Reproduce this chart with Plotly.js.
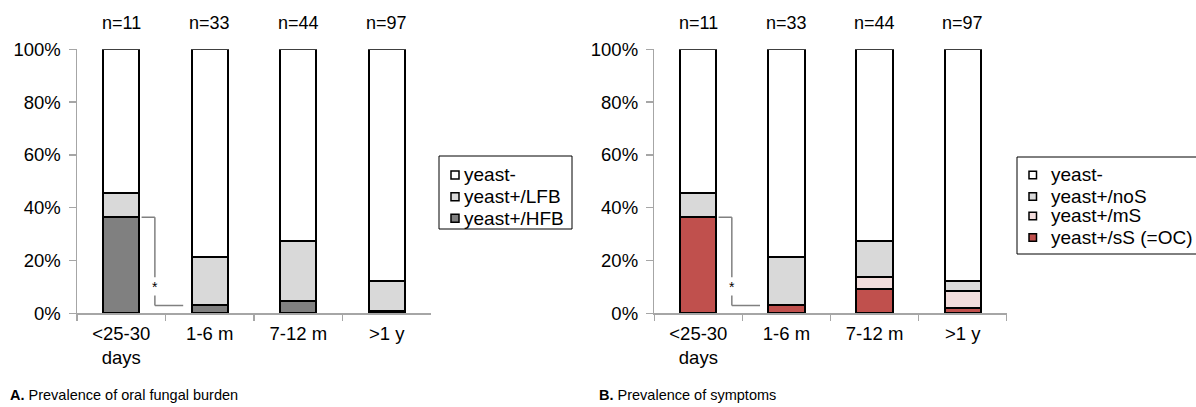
<!DOCTYPE html>
<html>
<head>
<meta charset="utf-8">
<script src="https://cdn.plot.ly/plotly-3.0.1.min.js"></script>
<style>html,body{margin:0;padding:0;background:#fff;}#chart{width:1196px;height:407px;}</style>
</head>
<body>
<div id="chart"></div>
<script>
// ---- data ----
var categories = ['<25-30<br>days', '1-6 m', '7-12 m', '>1 y'];
var nLabels = ['n=11', 'n=33', 'n=44', 'n=97'];

// Panel A: oral fungal burden (%)
var hfbA = [36.4, 3.0, 4.5, 1.0];
var lfbA = [9.1, 18.2, 22.8, 11.3];
var negA = [54.5, 78.8, 72.7, 87.7];

// Panel B: symptoms (%)
var sSB = [36.4, 3.0, 9.1, 2.1];
var mSB = [0, 0, 4.5, 6.2];
var noSB = [9.1, 18.2, 13.6, 4.1];
var negB = [54.5, 78.8, 72.8, 87.6];

var seriesNamesA = ['yeast+/HFB', 'yeast+/LFB', 'yeast-'];
var seriesNamesB = ['yeast+/sS (=OC)', 'yeast+/mS', 'yeast+/noS', 'yeast-'];
var captionA = '<b>A.</b> Prevalence of oral fungal burden';
var captionB = '<b>B.</b> Prevalence of symptoms';

// ---- styling ----
var FONT = 'Arial, "Liberation Sans", sans-serif';
var AXC = '#a6a6a6';
var BW = 0.41;
var TF = 18.5;
var colorsA = ['#808080', '#d9d9d9', '#ffffff'];
var colorsB = ['#c0504d', '#f2dcdb', '#d9d9d9', '#ffffff'];

function bar(y, name, color, xa, ya) {
  return {
    type: 'bar', x: categories, y: y, name: name, xaxis: xa, yaxis: ya,
    width: BW, showlegend: false, hoverinfo: 'skip',
    marker: {color: color, line: {color: '#000', width: 2}}
  };
}
var seriesA = [hfbA, lfbA, negA];
var seriesB = [sSB, mSB, noSB, negB];
var data = [];
seriesA.forEach(function (s, i) { data.push(bar(s, seriesNamesA[i], colorsA[i], 'x', 'y')); });
seriesB.forEach(function (s, i) { data.push(bar(s, seriesNamesB[i], colorsB[i], 'x2', 'y2')); });

var W = 1196, H = 407;
function px(v) { return v / W; }
function py(v) { return (H - v) / H; }

function xax(domain, anchor) {
  return {
    domain: domain, anchor: anchor, type: 'category', range: [-0.5, 3.5],
    showline: true, linecolor: AXC, linewidth: 1.5,
    ticks: 'outside', tickson: 'boundaries', ticklen: 6, tickcolor: AXC, tickwidth: 1.5,
    ticklabelstandoff: 3,
    tickfont: {family: FONT, size: TF, color: '#000'}, showgrid: false, zeroline: false,
    fixedrange: true
  };
}
function yax(domain, anchor) {
  return {
    domain: domain, anchor: anchor, range: [0, 100], dtick: 20, ticksuffix: '%',
    showline: true, linecolor: AXC, linewidth: 1.5,
    ticks: 'outside', ticklen: 7, tickcolor: AXC, tickwidth: 1.5,
    ticklabelstandoff: 4,
    tickfont: {family: FONT, size: TF, color: '#000'}, showgrid: false, zeroline: false,
    fixedrange: true
  };
}

var yDom = [py(313.3), py(49.3)];
var layout = {
  width: W, height: H,
  margin: {l: 0, r: 0, t: 0, b: 0, autoexpand: false},
  paper_bgcolor: '#fff', plot_bgcolor: '#fff',
  barmode: 'stack', showlegend: false,
  font: {family: FONT, size: 17, color: '#000'},
  xaxis: xax([px(77), px(431)], 'y'),
  yaxis: yax(yDom, 'x'),
  xaxis2: xax([px(654.3), px(1006.7)], 'y2'),
  yaxis2: yax(yDom, 'x2'),
  shapes: [],
  annotations: []
};

// n labels
['x', 'x2'].forEach(function (xr) {
  nLabels.forEach(function (t, i) {
    layout.annotations.push({
      xref: xr, x: i, yref: 'paper', y: py(22.5), yanchor: 'middle',
      text: t, showarrow: false, font: {family: FONT, size: 18, color: '#000'}
    });
  });
});

// significance brackets
function bracket(xr, yr, topVal, botVal) {
  var c = '#808080', w = 1.5;
  var xa = 0.23, xb = 0.38, xc = 0.70;
  layout.shapes.push({type: 'line', xref: xr, yref: yr, x0: xa, x1: xb, y0: topVal, y1: topVal, line: {color: c, width: w}});
  layout.shapes.push({type: 'line', xref: xr, yref: yr, x0: xb, x1: xb, y0: topVal, y1: 13.7, line: {color: c, width: w}});
  layout.shapes.push({type: 'line', xref: xr, yref: yr, x0: xb, x1: xb, y0: 6.7, y1: botVal, line: {color: c, width: w}});
  layout.shapes.push({type: 'line', xref: xr, yref: yr, x0: xb, x1: xc, y0: botVal, y1: botVal, line: {color: c, width: w}});
  layout.annotations.push({xref: xr, yref: yr, x: xb, y: 10, text: '*', showarrow: false,
    font: {family: FONT, size: 14, color: '#000'}});
}
bracket('x', 'y', hfbA[0], hfbA[1]);
bracket('x2', 'y2', sSB[0], sSB[1]);

// legends (drawn as boxed keys, top entry = last series)
function legendBox(names, colors, box, sq, textX, rows) {
  layout.shapes.push({type: 'rect', xref: 'paper', yref: 'paper',
    x0: px(box[0]), x1: px(box[1]), y0: py(box[3]), y1: py(box[2]),
    line: {color: '#000', width: 1}, fillcolor: '#fff', layer: 'above'});
  var n = names.length;
  for (var k = 0; k < n; k++) {
    var i = n - 1 - k;
    var cy = rows[k];
    layout.shapes.push({type: 'rect', xref: 'paper', yref: 'paper',
      x0: px(sq[0]), x1: px(sq[1]), y0: py(cy + sq[2] / 2), y1: py(cy - sq[2] / 2),
      line: {color: '#000', width: 1.5}, fillcolor: colors[i], layer: 'above'});
    layout.annotations.push({xref: 'paper', yref: 'paper', x: px(textX), y: py(cy),
      xanchor: 'left', yanchor: 'middle', text: names[i], showarrow: false,
      font: {family: FONT, size: 19, color: '#000'}});
  }
}
legendBox(seriesNamesA, colorsA, [439, 572, 156, 229], [451, 459, 8], 462, [175, 196.7, 218.3]);
legendBox(seriesNamesB, colorsB, [1017, 1205, 157, 254], [1029, 1036.5, 7.5], 1049, [175, 196.5, 216, 237.5]);

// captions
layout.annotations.push({xref: 'paper', yref: 'paper', x: px(8), y: py(395), xanchor: 'left', yanchor: 'middle',
  text: captionA, showarrow: false, font: {family: FONT, size: 14.5, color: '#000'}});
layout.annotations.push({xref: 'paper', yref: 'paper', x: px(597), y: py(395), xanchor: 'left', yanchor: 'middle',
  text: captionB, showarrow: false, font: {family: FONT, size: 14.5, color: '#000'}});

Plotly.newPlot('chart', data, layout, {displayModeBar: false, staticPlot: true});
</script>
</body>
</html>
